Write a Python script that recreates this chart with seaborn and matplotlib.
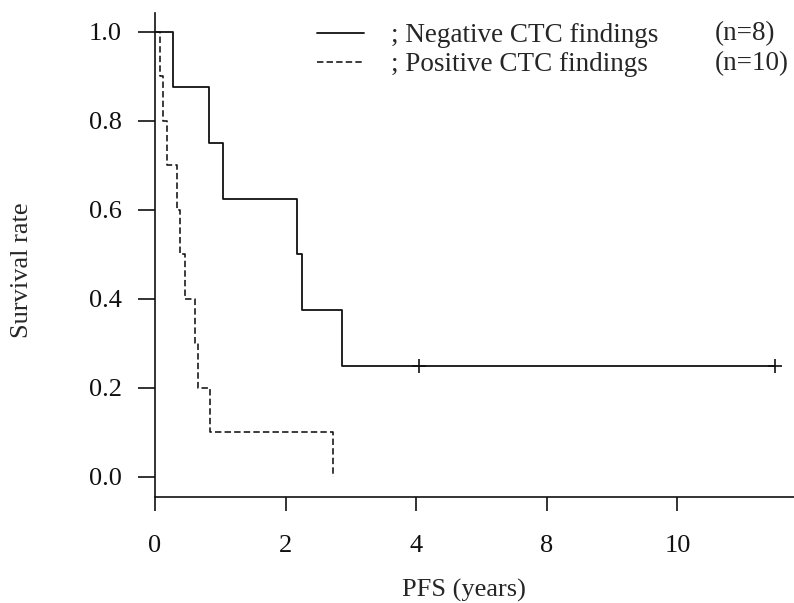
import numpy as np
import pandas as pd
import matplotlib
matplotlib.use('Agg')
import matplotlib.pyplot as plt
import seaborn as sns
from matplotlib.lines import Line2D

# Kaplan-Meier step data (x in axis units, ticks relabelled like the original)
neg_time = [0, 0.27, 0.82, 1.04, 2.18, 2.25, 2.87, 9.49]
neg_surv = [1.0, 0.875, 0.75, 0.625, 0.5, 0.375, 0.25, 0.25]
neg_cens_time = [4.05, 9.49]
neg_cens_surv = [0.25, 0.25]

pos_time = [0, 0.077, 0.12, 0.18, 0.34, 0.39, 0.46, 0.61, 0.66, 0.84, 2.73]
pos_surv = [1.0, 0.9, 0.8, 0.7, 0.6, 0.5, 0.4, 0.3, 0.2, 0.1, 0.0]

tick_pos = [0, 2, 4, 6, 8]
tick_labels = ['0', '2', '4', '8', '10']
group_labels = ['; Negative CTC findings', '; Positive CTC findings']
group_n = ['(n=8)', '(n=10)']

sns.set_style('ticks')
plt.rcParams['font.family'] = ['Liberation Serif', 'DejaVu Serif']
fs = 19

neg_df = pd.DataFrame({'time': neg_time, 'surv': neg_surv})
pos_df = pd.DataFrame({'time': pos_time, 'surv': pos_surv})
cens_df = pd.DataFrame({'time': neg_cens_time, 'surv': neg_cens_surv})

fig = plt.figure(figsize=(7.94, 6.03), dpi=100)
ax = fig.add_axes([155 / 794, 106 / 603, 1 - 155 / 794, 484 / 603])

sns.lineplot(data=neg_df, x='time', y='surv', ax=ax, sort=False, estimator=None,
             drawstyle='steps-post', color='#111111', linewidth=1.3)
sns.lineplot(data=pos_df, x='time', y='surv', ax=ax, sort=False, estimator=None,
             drawstyle='steps-post', color='#111111', linewidth=1.15,
             linestyle=(0, (4, 2)))
sns.scatterplot(data=cens_df, x='time', y='surv', ax=ax, marker='+', s=110,
                color='#111111', linewidth=1.2)

ax.set_xlim(0, 9.785)
ax.set_ylim(-0.045, 1.042)
ax.set_xticks(tick_pos)
ax.set_xticklabels(tick_labels)
ax.set_yticks([0.0, 0.2, 0.4, 0.6, 0.8, 1.0])
ax.set_yticklabels(['0.0', '0.2', '0.4', '0.6', '0.8', '1.0'])
ax.tick_params(axis='x', labelsize=fs, length=10, width=1.2, pad=17, colors='#111111')
ax.tick_params(axis='y', labelsize=fs, length=12, width=1.2, pad=12, colors='#111111')
sns.despine(ax=ax)
for sp in ['left', 'bottom']:
    ax.spines[sp].set_linewidth(1.2)
    ax.spines[sp].set_color('#111111')

ax.set_xlabel('PFS (years)', fontsize=fs)
ax.set_ylabel('Survival rate', fontsize=fs)
ax.xaxis.set_label_coords(0.484, -0.17)
ax.yaxis.set_label_coords(-0.191, 0.469)

handles = [Line2D([], [], color='#111111', linewidth=1.3),
           Line2D([], [], color='#111111', linewidth=1.15, linestyle=(0, (4, 2)))]
ax.legend(handles, group_labels, loc='upper left', bbox_to_anchor=(317 / 794, 1 - 23 / 603),
          bbox_transform=fig.transFigure, frameon=False, fontsize=19.5,
          handlelength=1.75, handletextpad=1.0, labelspacing=0.15, borderpad=0,
          borderaxespad=0)
fig.text(715 / 794, 1 - 34 / 603, group_n[0], fontsize=19.5, va='center', ha='left')
fig.text(715 / 794, 1 - 64 / 603, group_n[1], fontsize=19.5, va='center', ha='left')

fig.savefig('out.png', dpi=100)
